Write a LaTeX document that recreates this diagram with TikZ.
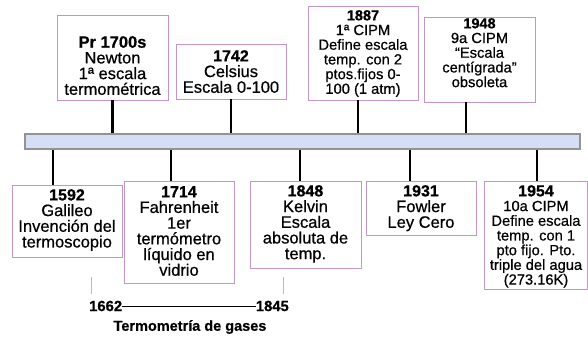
\documentclass[tikz,border=0pt]{standalone}
\usepackage{fontspec}
\setmainfont{Liberation Sans}[FakeBold=0.6]
\newcommand\yr[2]{{\fontsize{#1}{#1}\selectfont\bfseries #2}}
\begin{document}
\begin{tikzpicture}[x=1pt,y=-1pt,
  box/.style={draw=boxc, line width=0.8pt, fill=white, inner sep=0pt},
  txt/.style={align=center, inner sep=0pt, anchor=north, font=\fontsize{16.5}{15.7}\selectfont},
  txts/.style={align=center, inner sep=0pt, anchor=north, font=\fontsize{14.7}{14.7}\selectfont},
  stem/.style={line width=2.8pt, black},
  tick/.style={draw=tickc, line width=1pt}]
\definecolor{boxc}{RGB}{196,150,200}
\definecolor{tickc}{RGB}{232,165,180}
\definecolor{barc}{RGB}{212,222,245}
\useasboundingbox (0,0) rectangle (588,339);
% bar
\node[draw=gray!85, line width=1.2pt, fill=barc, minimum width=555pt, minimum height=15pt, inner sep=0pt] (bar) at (302.5,141.5) {};
% top boxes
\node[box, minimum width=111pt, minimum height=85pt] (b1700) at (112.5,57.5) {};
\node[box, minimum width=110pt, minimum height=55pt] (b1742) at (231,71.5) {};
\node[box, minimum width=110pt, minimum height=94pt] (b1887) at (363,53) {};
\node[box, minimum width=111pt, minimum height=85pt] (b1948) at (479.5,59.5) {};
% bottom boxes
\node[box, minimum width=110pt, minimum height=72pt] (b1592) at (67,221) {};
\node[box, minimum width=110pt, minimum height=102pt] (b1714) at (179,232) {};
\node[box, minimum width=111pt, minimum height=87pt] (b1848) at (305.5,224.5) {};
\node[box, minimum width=110pt, minimum height=54pt] (b1931) at (421,208) {};
\node[box, minimum width=103pt, minimum height=108pt] (b1954) at (535.5,235) {};
% texts
\node[txt] (t1700) at (112.5,36) {\yr{16.5}{Pr 1700s}\\Newton\\1ª escala\\termométrica};
\node[txt] (t1742) at (231,50) {\yr{16}{1742}\\Celsius\\Escala 0-100};
\node[txts] (t1887) at (363,10) {\yr{14.5}{1887}\\1ª CIPM\\Define escala\\temp. con 2\\ptos.fijos 0-\\100 (1 atm)};
\node[txts] (t1948) at (479.5,18) {\yr{14.5}{1948}\\9a CIPM\\“Escala\\centígrada”\\obsoleta};
\node[txt] (t1592) at (67,189) {\yr{16}{1592}\\Galileo\\Invención del\\termoscopio};
\node[txt] (t1714) at (179,186) {\yr{16}{1714}\\Fahrenheit\\1er\\termómetro\\líquido en\\vidrio};
\node[txt] (t1848) at (305.5,185) {\yr{16}{1848}\\Kelvin\\Escala\\absoluta de\\temp.};
\node[txt] (t1931) at (421,185) {\yr{16}{1931}\\Fowler\\Ley Cero};
\node[txts] (t1954) at (536,185) {\yr{16}{1954}\\10a CIPM\\Define escala\\temp. con 1\\pto fijo. Pto.\\triple del agua\\(273.16K)};
% stems
\draw[stem] (b1700.south) -- (b1700.south |- bar.north);
\draw[stem] (b1742.south) -- (b1742.south |- bar.north);
\draw[stem] (b1887.south -| 358,0) -- (358,0 |- bar.north);
\draw[stem] (b1948.south -| 466,0) -- (466,0 |- bar.north);
\draw[stem] (53,0 |- bar.south) -- (53,0 |- b1592.north);
\draw[stem] (171,0 |- bar.south) -- (171,0 |- b1714.north);
\draw[stem] (300,0 |- bar.south) -- (300,0 |- b1848.north);
\draw[stem] (410,0 |- bar.south) -- (410,0 |- b1931.north);
\draw[stem] (537,0 |- bar.south) -- (537,0 |- b1954.north);
% gas thermometry
\coordinate (k1a) at (91,277); \coordinate (k1b) at (91,294);
\coordinate (k2a) at (283,277); \coordinate (k2b) at (283,294);
\draw[tick] (k1a) -- (k1b);
\draw[tick] (k2a) -- (k2b);
\node[font=\fontsize{14.8}{14.8}\selectfont\bfseries, inner sep=0pt, anchor=west] (y1662) at (89,306) {1662};
\node[font=\fontsize{14.8}{14.8}\selectfont\bfseries, inner sep=0pt, anchor=east] (y1845) at (289,306) {1845};
\draw[line width=1pt] (y1662.east) -- (y1845.west);
\node[font=\fontsize{14.5}{14.5}\selectfont\bfseries, inner sep=0pt] (gas) at (190,327) {Termometría de gases};
\end{tikzpicture}
\end{document}
